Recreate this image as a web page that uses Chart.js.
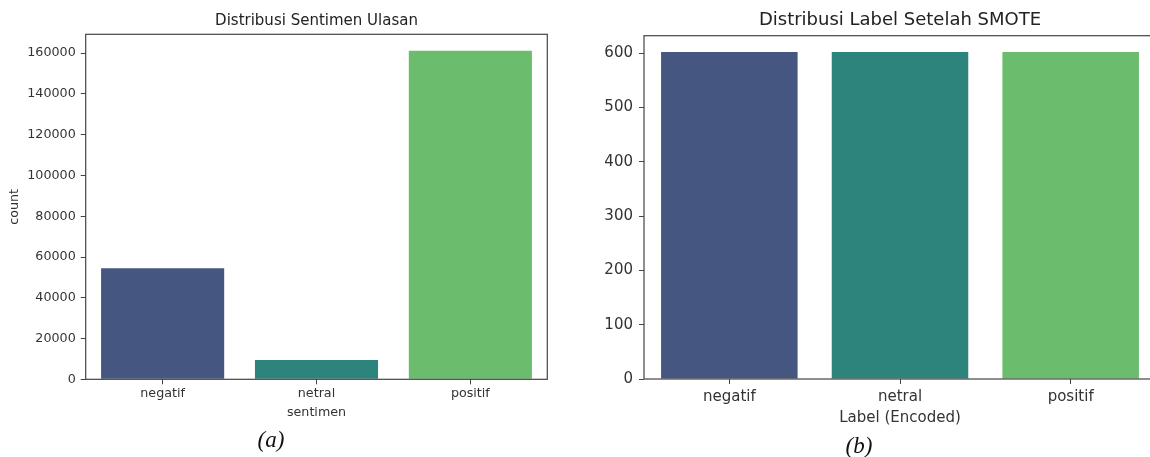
<!DOCTYPE html>
<html>
<head>
<meta charset="utf-8">
<script src="https://cdn.jsdelivr.net/npm/chart.js@4.4.1/dist/chart.umd.min.js"></script>
<style>
  html, body { margin: 0; padding: 0; background: #fff; overflow: hidden; }
  #stage { position: relative; width: 1150px; height: 457px; overflow: hidden; }
  #chartA { position: absolute; left: 0; top: 0; }
  #chartB { position: absolute; left: 580px; top: 0; }
  .caption {
    position: absolute; font-family: 'Liberation Serif', serif; font-style: italic;
    font-size: 23px; color: #111; line-height: 1; transform: translate(-50%, -50%);
  }
</style>
</head>
<body>
<div id="stage">
  <canvas id="chartA" width="560" height="457"></canvas>
  <canvas id="chartB" width="580" height="457"></canvas>
  <div class="caption" style="left:271px; top:439px;">(a)</div>
  <div class="caption" style="left:859px; top:445px;">(b)</div>
</div>
<script>
// Data
var sentimenLabels = ['negatif', 'netral', 'positif'];
var sentimenCounts = [54500, 9500, 161200];
var sentimenTicks = [0, 20000, 40000, 60000, 80000, 100000, 120000, 140000, 160000];
var smoteLabels = ['negatif', 'netral', 'positif'];
var smoteCounts = [602, 602, 602];
var smoteTicks = [0, 100, 200, 300, 400, 500, 600];
var barColors = ['#455681', '#2d847d', '#6bbc6c'];

var axisColor = '#444',
    textColor = '#333',
    fontFamily = "'DejaVu Sans', sans-serif";

// Draws the full box around the plot area (matplotlib spines)
const frame = {
    id: 'frame',
    afterDatasetsDraw(chart) {
        const a = chart.chartArea, ctx = chart.ctx;
        ctx.save();
        ctx.strokeStyle = axisColor;
        ctx.lineWidth = 1.2;
        ctx.strokeRect(a.left, a.top, a.right - a.left, a.bottom - a.top);
        ctx.restore();
    }
};

function makeChart(el, cfg) {
    var yMax = Math.max.apply(null, cfg.values) * 1.05;
    return new Chart(el, {
        type: 'bar',
        data: {
            labels: cfg.labels,
            datasets: [{
                data: cfg.values,
                backgroundColor: barColors,
                borderWidth: 0,
                categoryPercentage: 0.8,
                barPercentage: 1
            }]
        },
        options: {
            responsive: false,
            animation: false,
            layout: { padding: { left: 0, right: cfg.padRight, top: 0, bottom: cfg.padBottom } },
            plugins: {
                legend: { display: false },
                tooltip: { enabled: false },
                title: {
                    display: true,
                    text: cfg.title,
                    fullSize: false,
                    color: '#222',
                    font: { family: fontFamily, size: cfg.titleSize, weight: 'normal', lineHeight: 1.2 },
                    padding: { top: cfg.titlePadTop, bottom: cfg.titlePadBottom }
                }
            },
            scales: {
                x: {
                    grid: { display: true, drawOnChartArea: false, drawTicks: true, tickLength: 5, color: axisColor, offset: false },
                    border: { display: false },
                    ticks: { color: textColor, padding: cfg.xTickPad, font: { family: fontFamily, size: cfg.tickSize } },
                    title: {
                        display: true, text: cfg.xTitle, color: textColor, padding: 0,
                        font: { family: fontFamily, size: cfg.tickSize, lineHeight: 1.2 }
                    },
                    afterFit: function (s) { s.height = cfg.xHeight; }
                },
                y: {
                    min: 0,
                    max: yMax,
                    grid: { display: true, drawOnChartArea: false, drawTicks: true, tickLength: 5, color: axisColor },
                    border: { display: false },
                    ticks: {
                        color: textColor,
                        padding: cfg.yTickPad,
                        font: { family: fontFamily, size: cfg.tickSize },
                        callback: function (v) { return String(v); }
                    },
                    afterBuildTicks: function (s) {
                        s.ticks = cfg.ticks.map(function (v) { return { value: v }; });
                    },
                    title: {
                        display: !!cfg.yTitle, text: cfg.yTitle, color: textColor,
                        padding: { top: 7, bottom: 0 },
                        font: { family: fontFamily, size: cfg.tickSize, lineHeight: 1.2 }
                    },
                    afterFit: function (s) { s.width = cfg.yWidth; }
                }
            }
        },
        plugins: [frame]
    });
}

makeChart(document.getElementById('chartA'), {
    labels: sentimenLabels,
    values: sentimenCounts,
    ticks: sentimenTicks,
    title: 'Distribusi Sentimen Ulasan',
    xTitle: 'sentimen',
    yTitle: 'count',
    titleSize: 15,
    titlePadTop: 11.7,
    titlePadBottom: 4.6,
    tickSize: 12.7,
    xTickPad: 2,
    yTickPad: 5,
    xHeight: 40.6,
    yWidth: 85.7,
    padRight: 12.7,
    padBottom: 37.1
});

makeChart(document.getElementById('chartB'), {
    labels: smoteLabels,
    values: smoteCounts,
    ticks: smoteTicks,
    title: 'Distribusi Label Setelah SMOTE',
    xTitle: 'Label (Encoded)',
    yTitle: '',
    titleSize: 18,
    titlePadTop: 9.9,
    titlePadBottom: 4.2,
    tickSize: 15,
    xTickPad: 3.7,
    yTickPad: 6,
    xHeight: 48,
    yWidth: 64,
    padRight: 4,
    padBottom: 30
});
</script>
</body>
</html>
